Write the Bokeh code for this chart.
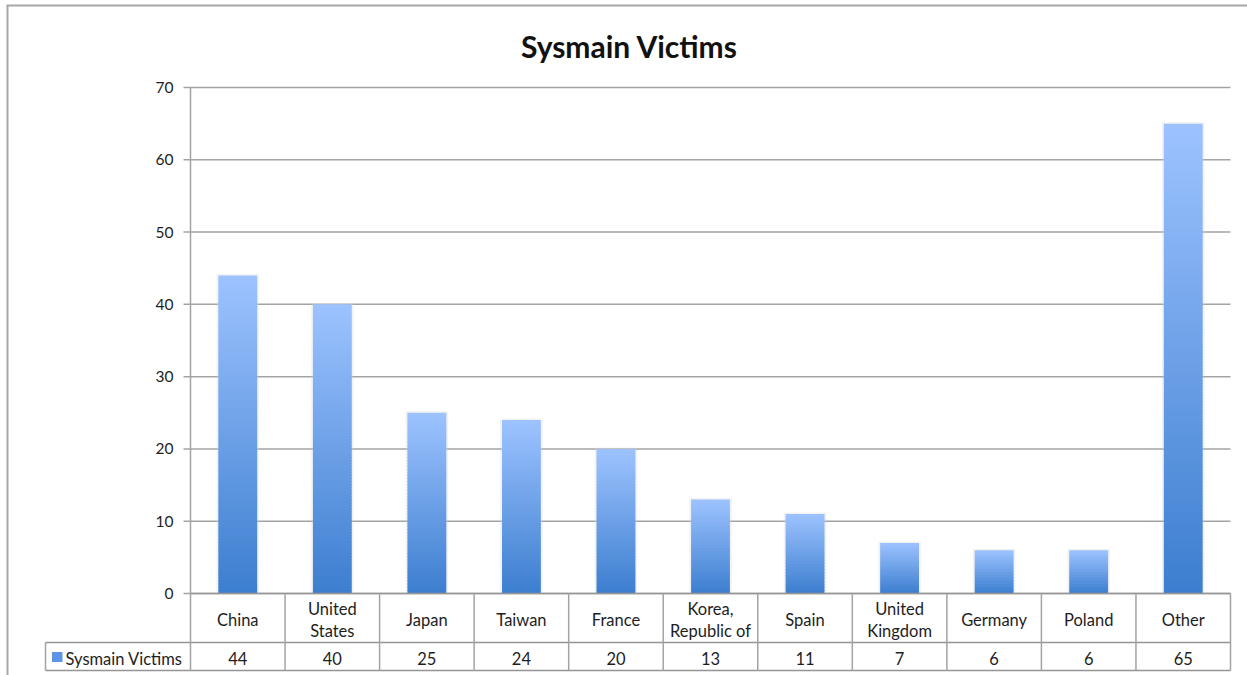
from bokeh.plotting import figure
from bokeh.models import ColumnDataSource, Range1d
from bokeh.core.properties import value
from bokeh.embed import file_html
from bokeh.resources import INLINE

# --- data ---------------------------------------------------------------
countries = ["China", "United\nStates", "Japan", "Taiwan", "France",
             "Korea,\nRepublic of", "Spain", "United\nKingdom", "Germany",
             "Poland", "Other"]
victims = [44, 40, 25, 24, 20, 13, 11, 7, 6, 6, 65]
series_name = "Sysmain Victims"
y_ticks = [0, 10, 20, 30, 40, 50, 60, 70]

W, H = 1247, 675
FONT = "Lato"

# plot-area geometry in screen pixels (categories occupy one unit each)
PX_LEFT, PX_RIGHT, PX_ZERO, PX_TOP = 190.0, 1230.0, 593.0, 87.0
n = len(victims)
ux = (PX_RIGHT - PX_LEFT) / n            # pixels per category
uy = (PX_ZERO - PX_TOP) / max(y_ticks)   # pixels per victim


def fx(px):
    return (px - PX_LEFT) / ux


def fy(py):
    return (PX_ZERO - py) / uy


p = figure(width=W, height=H, output_backend="svg", toolbar_location=None,
           x_range=Range1d(fx(0), fx(W)), y_range=Range1d(fy(H), fy(0)),
           x_axis_type=None, y_axis_type=None, title=None, min_border=0)
p.xgrid.visible = False
p.ygrid.visible = False
p.outline_line_color = None
p.background_fill_color = "white"
p.border_fill_color = "white"

LINE = "#a3a3a3"
TXT = "#1e1e1e"

# outer chart border (top and left edges)
p.segment(x0=[fx(6), fx(7)], y0=[fy(5), fy(5)], x1=[fx(W), fx(7)], y1=[fy(5), fy(H)],
          line_color="#a8a8a8", line_width=2)

# horizontal gridlines with short outside ticks
p.segment(x0=[fx(183)] * len(y_ticks), y0=y_ticks,
          x1=[n] * len(y_ticks), y1=y_ticks, line_color=LINE, line_width=1.5)

# tick labels
p.text(x=[fx(173)] * len(y_ticks), y=y_ticks, text=[str(t) for t in y_ticks],
       text_align="right", text_baseline="middle", text_font=value(FONT),
       text_font_size="15.5px", text_color=TXT)

# bars: vertical gradient built from stacked slices of each bar's height
top_rgb = (157, 195, 255)
bot_rgb = (60, 126, 207)
bw = 0.41
sh = dict(left=[], right=[], bottom=[], top=[])
gb = dict(left=[], right=[], bottom=[], top=[], color=[])
for i, v in enumerate(victims):
    c = i + 0.5
    sh["left"].append(c - bw / 2 - 0.02)
    sh["right"].append(c + bw / 2 + 0.02)
    sh["bottom"].append(0)
    sh["top"].append(v + 0.2)
    N = max(4, round(v * uy / 3))   # about 3 px per slice
    for k in range(N):
        t = (k + 0.5) / N
        r = round(bot_rgb[0] + (top_rgb[0] - bot_rgb[0]) * t)
        g = round(bot_rgb[1] + (top_rgb[1] - bot_rgb[1]) * t)
        b = round(bot_rgb[2] + (top_rgb[2] - bot_rgb[2]) * t)
        gb["left"].append(c - bw / 2)
        gb["right"].append(c + bw / 2)
        gb["bottom"].append(v * k / N)
        # slight overlap between slices hides seams
        gb["top"].append(min(v, v * (k + 1) / N + 1.0 / uy))
        gb["color"].append("#%02x%02x%02x" % (r, g, b))

p.quad(source=ColumnDataSource(sh), left="left", right="right", bottom="bottom",
       top="top", fill_color="#d4d4d4", fill_alpha=0.3, line_color=None)
p.quad(source=ColumnDataSource(gb), left="left", right="right", bottom="bottom",
       top="top", fill_color="color", line_color=None)

# y axis line
p.segment(x0=[0], y0=[0], x1=[0], y1=[max(y_ticks)], line_color=LINE, line_width=1.5)

# data table under the plot
row_mid = fy(642)
row_bot = fy(670)
leg_left = fx(45)
p.segment(x0=[0, leg_left, leg_left], y0=[0, row_mid, row_bot],
          x1=[n, n, n], y1=[0, row_mid, row_bot], line_color="#959595", line_width=1.5)
p.segment(x0=list(range(n + 1)), y0=[0] * (n + 1), x1=list(range(n + 1)),
          y1=[row_bot] * (n + 1), line_color=LINE, line_width=1.5)
p.segment(x0=[leg_left], y0=[row_mid], x1=[leg_left], y1=[row_bot],
          line_color=LINE, line_width=1.5)

centers = [i + 0.5 for i in range(n)]
p.text(x=centers, y=[fy(619.5)] * n, text=countries, text_align="center",
       text_baseline="middle", text_font=value(FONT), text_font_size="16.5px",
       text_line_height=1.1, text_color=TXT)
p.text(x=centers, y=[fy(658)] * n, text=[str(v) for v in victims],
       text_align="center", text_baseline="middle", text_font=value(FONT),
       text_font_size="16.5px", text_color=TXT)

# legend key inside the table
p.quad(left=[fx(51.5)], right=[fx(62)], bottom=[fy(661.5)], top=[fy(651.5)],
       fill_color="#5e94e6", line_color=None)
p.text(x=[fx(65)], y=[fy(658)], text=[series_name], text_align="left",
       text_baseline="middle", text_font=value(FONT), text_font_size="16.5px",
       text_color=TXT)

# chart title
p.text(x=[fx(629)], y=[fy(45)], text=[series_name], text_align="center",
       text_baseline="middle", text_font=value(FONT), text_font_size="30px",
       text_font_style="bold", text_color="#111111")

open("out.html", "w").write(file_html(p, INLINE))
